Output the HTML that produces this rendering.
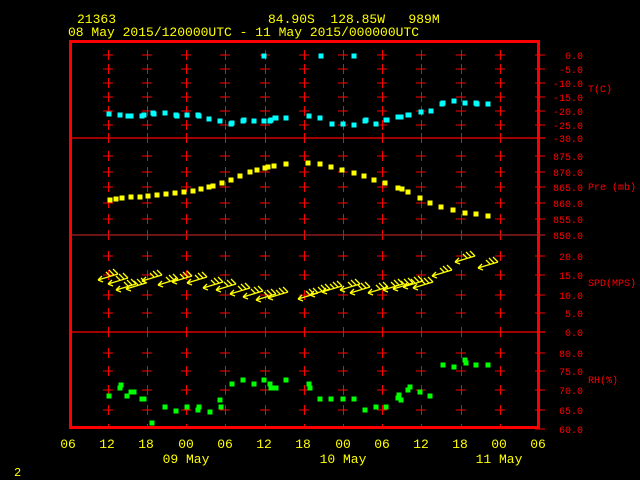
<!DOCTYPE html>
<html><head><meta charset="utf-8"><style>
html,body{margin:0;padding:0;background:#000;width:640px;height:480px;overflow:hidden}
svg{display:block}
text{font-family:"Liberation Mono",monospace}
</style></head><body>
<svg id="s" width="640" height="480" viewBox="0 0 640 480" xmlns="http://www.w3.org/2000/svg">
<rect width="640" height="480" fill="#000"/>
<g fill="#ffff00" font-size="13">
<text x="77" y="23">21363</text>
<text x="268" y="23" xml:space="preserve">84.90S  128.85W   989M</text>
<text x="68" y="36">08 May 2015/120000UTC - 11 May 2015/000000UTC</text>
<g text-anchor="middle">
<text x="68" y="448">06</text><text x="107" y="448">12</text><text x="146" y="448">18</text><text x="186" y="448">00</text><text x="225" y="448">06</text><text x="264" y="448">12</text><text x="303" y="448">18</text><text x="343" y="448">00</text><text x="382" y="448">06</text><text x="421" y="448">12</text><text x="460" y="448">18</text><text x="499" y="448">00</text><text x="538" y="448">06</text>
<text x="186" y="463">09 May</text><text x="343" y="463">10 May</text><text x="499" y="463">11 May</text>
</g>
<text x="14" y="476" font-size="12">2</text>
</g>
<g id="grid" stroke="#ff0000" stroke-width="1" fill="none"></g>
<rect x="70.5" y="41.5" width="468" height="386" fill="none" stroke="#ff0000" stroke-width="3"/>
<g stroke="#ff0000" stroke-width="1.2">
<line x1="70" y1="138" x2="545" y2="138"/><line x1="70" y1="235" x2="545" y2="235" stroke="#aa2222"/><line x1="70" y1="332" x2="545" y2="332"/>
</g>
<g id="lab" fill="#ff0000" font-size="10" text-anchor="end"></g>
<g fill="#ff0000" font-size="10">
<text x="588" y="92">T(C)</text><text x="588" y="190">Pre (mb)</text><text x="588" y="286">SPD(MPS)</text><text x="588" y="383">RH(%)</text>
</g>
<g id="pts"></g>
<g id="wind" stroke="#ffff00" stroke-width="1.3" fill="none"></g>
</svg>
<script>
var NS="http://www.w3.org/2000/svg";
function el(p,t,a,txt){var e=document.createElementNS(NS,t);for(var k in a)e.setAttribute(k,a[k]);if(txt!=null)e.textContent=txt;document.getElementById(p).appendChild(e);}
var xs=[108,147,186,225,265,304,343,382,421,461,500];
var ys=[[55,"0.0"],[69,"-5.0"],[83,"-10.0"],[97,"-15.0"],[111,"-20.0"],[125,"-25.0"],[138,"-30.0"],
[156,"875.0"],[172,"870.0"],[187,"865.0"],[203,"860.0"],[219,"855.0"],[235,"850.0"],
[256,"20.0"],[275,"15.0"],[295,"10.0"],[313,"5.0"],[332,"0.0"],
[353,"80.0"],[371,"75.0"],[390,"70.0"],[410,"65.0"],[429,"60.0"]];
ys.forEach(function(y){
 if(y[0]<429){xs.forEach(function(x){el("grid","line",{x1:x-5,y1:y[0],x2:x+5,y2:y[0]});el("grid","line",{x1:x+0.5,y1:y[0]-5,x2:x+0.5,y2:y[0]+5});});}
 el("grid","line",{x1:535,y1:y[0],x2:545,y2:y[0]});
 el("lab","text",{x:583,y:y[0]+4},y[1]);
});
xs.forEach(function(x){el("grid","line",{x1:x+0.5,y1:424,x2:x+0.5,y2:428});});
function sq(arr,c){arr.forEach(function(p){el("pts","rect",{x:p[0]-2.5,y:p[1]-2.5,width:5,height:5,fill:c});});}
sq([[109,114],[120,115],[128,116],[131,116],[142,116],[144,115],[153,113],[154,114],[165,113],[176,115],[177,116],[187,115],[198,115],[199,116],[209,119],[220,121],[231,124],[232,123],[243,121],[244,120],[254,121],[264,121],[270,121],[271,120],[275,118],[276,118],[286,118],[264,56],[309,116],[320,118],[332,124],[343,124],[354,125],[365,121],[366,120],[376,124],[386,120],[387,120],[398,117],[401,117],[408,115],[409,115],[421,112],[431,111],[442,104],[443,103],[454,101],[465,103],[476,103],[477,104],[488,104],[321,56],[354,56]],"#00ffff");
sq([[110,200],[116,199],[122,198],[131,197],[140,197],[148,196],[157,195],[166,194],[175,193],[184,192],[193,191],[201,189],[209,187],[213,186],[222,183],[231,180],[240,176],[250,172],[257,170],[265,168],[268,167],[274,166],[286,164],[308,163],[320,164],[331,167],[342,170],[354,173],[364,176],[374,180],[385,183],[398,188],[402,189],[408,192],[420,198],[430,203],[441,207],[453,210],[465,213],[476,214],[488,216]],"#ffff00");
sq([[109,396],[120,388],[121,385],[127,396],[131,392],[134,392],[142,399],[144,399],[152,423],[165,407],[176,411],[187,407],[198,410],[199,407],[210,412],[220,400],[221,407],[232,384],[243,380],[254,384],[264,380],[270,384],[271,388],[276,388],[286,380],[309,384],[310,388],[320,399],[331,399],[343,399],[354,399],[365,410],[376,407],[386,407],[398,398],[399,395],[401,400],[408,390],[410,387],[420,392],[430,396],[443,365],[454,367],[465,360],[466,363],[476,365],[488,365]],"#00ff00");
var w=[[98,280],[108,284],[116,290],[126,289],[142,281],[158,285],[172,282],[187,283],[203,288],[216,290],[230,294],[243,297],[256,300],[268,298],[298,299],[310,295],[322,292],[340,290],[350,293],[368,293],[383,290],[393,289],[403,287],[413,288],[432,276],[455,262],[478,268]];
w.forEach(function(p){var x=p[0],y=p[1];
 el("wind","path",{d:"M"+x+" "+y+"L"+(x+20)+" "+(y-6)+"M"+x+" "+y+"l4 -4M"+x+" "+y+"l5 2M"+(x+20)+" "+(y-6)+"l-5 -5M"+(x+16)+" "+(y-5)+"l-5 -5M"+(x+12)+" "+(y-4)+"l-4 -4"});
});
</script>
</body></html>
